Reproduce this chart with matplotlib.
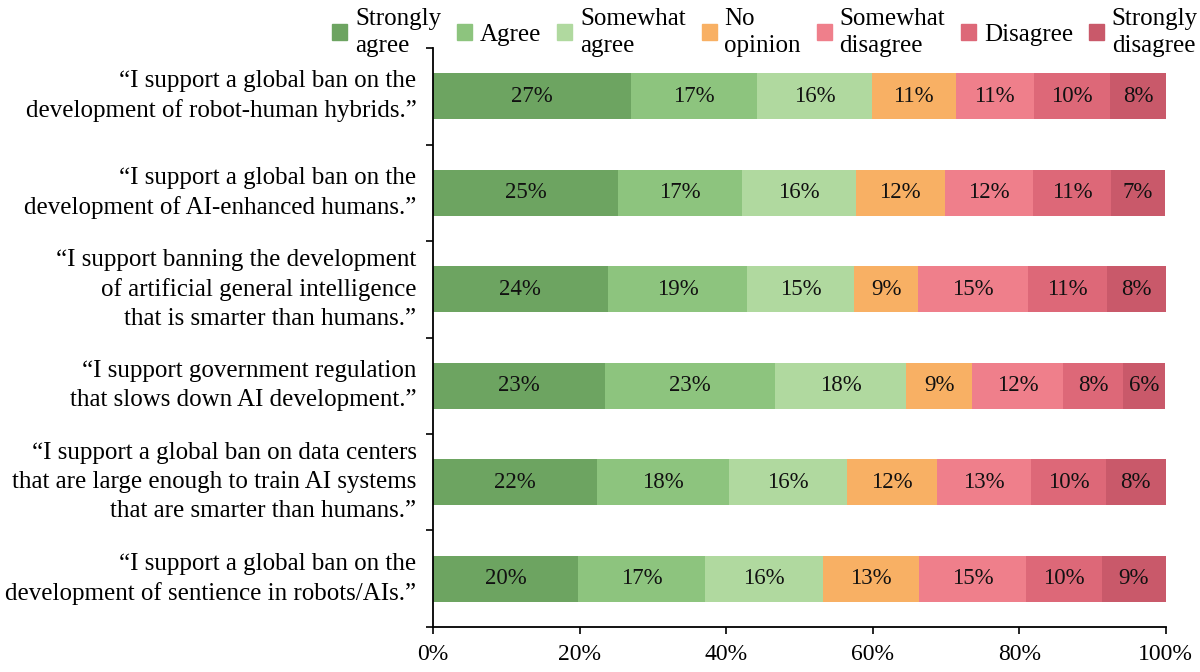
import numpy as np
import matplotlib
matplotlib.use("Agg")
from matplotlib import pyplot as plt
from matplotlib.patches import Patch

plt.rcParams['font.family'] = ['Liberation Serif', 'DejaVu Serif']

statements = [
    "\u201cI support a global ban on the\ndevelopment of robot-human hybrids.\u201d",
    "\u201cI support a global ban on the\ndevelopment of AI-enhanced humans.\u201d",
    "\u201cI support banning the development\nof artificial general intelligence\nthat is smarter than humans.\u201d",
    "\u201cI support government regulation\nthat slows down AI development.\u201d",
    "\u201cI support a global ban on data centers\nthat are large enough to train AI systems\nthat are smarter than humans.\u201d",
    "\u201cI support a global ban on the\ndevelopment of sentience in robots/AIs.\u201d",
]

responses = ["Strongly\nagree", "Agree", "Somewhat\nagree", "No\nopinion",
             "Somewhat\ndisagree", "Disagree", "Strongly\ndisagree"]
colors = ['#6da461', '#8dc47e', '#b0d99f', '#f8b064', '#ef7f8b', '#dd6878', '#c9596a']

# percent of respondents, one list per answer (rows follow statements)
strongly_agree    = [27.0, 25.2, 23.8, 23.4, 22.4, 19.8]
agree             = [17.2, 16.9, 19.1, 23.2, 18.0, 17.3]
somewhat_agree    = [15.7, 15.6, 14.6, 18.0, 16.1, 16.1]
no_opinion        = [11.4, 12.1, 8.7, 9.0, 12.3, 13.1]
somewhat_disagree = [10.7, 12.1, 15.0, 12.3, 12.8, 14.6]
disagree          = [10.4, 10.6, 10.8, 8.3, 10.2, 10.4]
strongly_disagree = [7.6, 7.4, 8.0, 5.7, 8.2, 8.7]

series = [strongly_agree, agree, somewhat_agree, no_opinion,
          somewhat_disagree, disagree, strongly_disagree]

fig = plt.figure(figsize=(12, 6.72), dpi=100)
ax = fig.add_axes([0.361, 0.067, 0.6105, 0.8615])

y = np.arange(len(statements))
left = np.zeros(len(statements))
for vals, col, name in zip(series, colors, responses):
    vals = np.array(vals)
    ax.barh(y, vals, left=left, height=0.48, color=col, label=name)
    for yi, l, v in zip(y, left, vals):
        ax.text(l + v / 2, yi, '%d%%' % round(v), ha='center', va='center',
                fontsize=16.5, color='#111111')
    left += vals

ax.set_xlim(0, 100)
ax.set_ylim(len(statements) - 0.5, -0.5)
ax.set_xticks([0, 20, 40, 60, 80, 100])
ax.set_xticklabels(['%d%%' % t for t in [0, 20, 40, 60, 80, 100]], fontsize=17)
ax.set_yticks(y)
ax.set_yticklabels(statements, fontsize=18, ha='right', multialignment='right')
for lab in ax.get_yticklabels():
    lab.set_linespacing(1.4)
    lab.set_va('center')
ax.set_yticks(np.arange(-0.5, len(statements)), minor=True)
ax.tick_params(axis='y', which='major', length=0, pad=12)
ax.tick_params(axis='y', which='minor', length=5, width=1.2)
ax.tick_params(axis='x', length=5, width=1.2, pad=7)
for s in ['top', 'right']:
    ax.spines[s].set_visible(False)
for s in ['left', 'bottom']:
    ax.spines[s].set_linewidth(1.3)

handles = [Patch(color=c) for c in colors]
leg = fig.legend(handles, responses, loc='upper right', bbox_to_anchor=(1.017, 1.022),
                 ncol=7, frameon=False, fontsize=18, handlelength=0.6, handleheight=0.6,
                 handletextpad=0.3, columnspacing=0.65, labelspacing=0.2)
for t in leg.get_texts():
    t.set_linespacing(1.3)

fig.savefig('out.png', dpi=100)
